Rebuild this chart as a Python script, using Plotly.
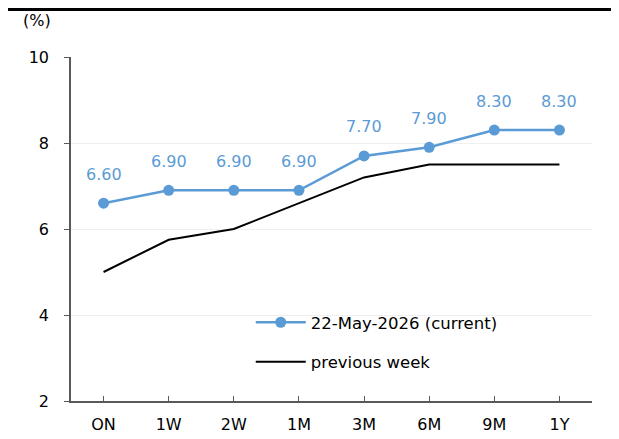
import plotly.graph_objects as go

categories = ["ON", "1W", "2W", "1M", "3M", "6M", "9M", "1Y"]
current = [6.60, 6.90, 6.90, 6.90, 7.70, 7.90, 8.30, 8.30]
previous = [5.00, 5.75, 6.00, 6.60, 7.20, 7.50, 7.50, 7.50]
current_name = "22-May-2026 (current)"
previous_name = "previous week"
y_ticks = [2, 4, 6, 8, 10]

blue = "#5B9BD5"
font_family = "DejaVu Sans, sans-serif"

L, R, T, B = 63, 35, 49, 46
W, H = 619, 439
PW, PH = W - L - R, H - T - B

fig = go.Figure()
fig.add_trace(go.Scatter(
    x=categories, y=current, name=current_name, legendgroup="a",
    mode="lines+markers",
    line=dict(color=blue, width=2.5),
    marker=dict(color=blue, size=11),
))
fig.add_trace(go.Scatter(
    x=categories, y=previous, name=previous_name, legendgroup="b",
    mode="lines",
    line=dict(color="black", width=2),
))

annotations = [dict(x=c, y=v, text=f"{v:.2f}", xref="x", yref="y",
                    showarrow=False, yshift=29, yanchor="middle",
                    font=dict(color=blue, size=16))
               for c, v in zip(categories, current)]
annotations.append(dict(text="(%)", xref="paper", yref="paper",
                        x=-50 / PW, y=1 + 37 / PH, xanchor="left", yanchor="middle",
                        showarrow=False, font=dict(size=16)))

fig.update_layout(
    width=W, height=H,
    margin=dict(l=L, r=R, t=T, b=B),
    paper_bgcolor="white", plot_bgcolor="white",
    font=dict(family=font_family, size=16, color="black"),
    showlegend=True,
    legend=dict(x=0.345, y=0.279, xanchor="left", yanchor="top",
                bgcolor="rgba(0,0,0,0)", font=dict(size=16.5),
                tracegroupgap=15, itemwidth=50),
    xaxis=dict(
        type="category", range=[-0.5, 7.5], automargin=False,
        showline=True, linecolor="#595959", linewidth=1.5,
        ticks="inside", ticklen=5, tickcolor="#595959",
        showgrid=False, tickfont=dict(size=16), ticklabelstandoff=8,
    ),
    yaxis=dict(
        range=[2, 10], tickvals=y_ticks, automargin=False,
        showline=True, linecolor="#595959", linewidth=1.5,
        ticks="outside", ticklen=5, tickcolor="#595959",
        showgrid=True, gridcolor="#EFEFEF", gridwidth=1,
        zeroline=False, tickfont=dict(size=16), ticklabelstandoff=12,
    ),
    shapes=[dict(type="line", xref="paper", yref="paper",
                 x0=-L / PW, x1=(W - L) / PW,
                 y0=1 + (T - 1.5) / PH, y1=1 + (T - 1.5) / PH,
                 line=dict(color="black", width=3))],
    annotations=annotations,
)

fig.write_html("out.html")
